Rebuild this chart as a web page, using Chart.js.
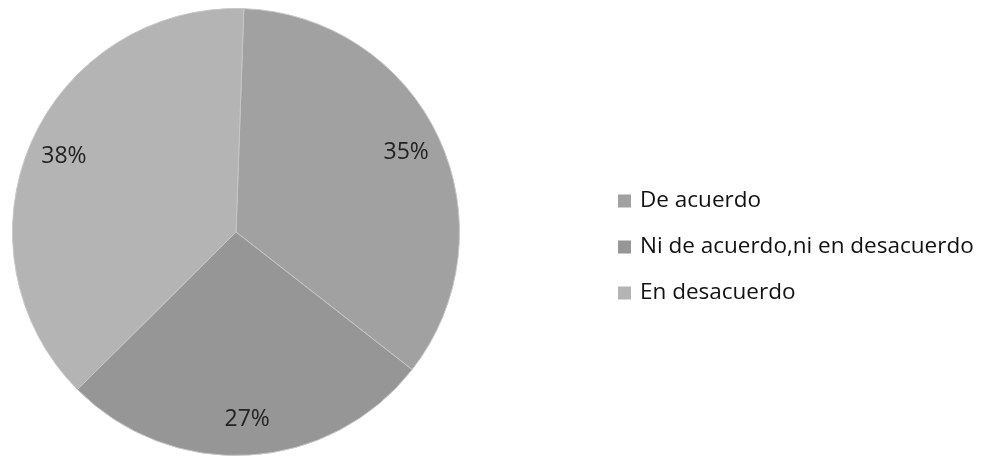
<!DOCTYPE html>
<html>
<head>
<meta charset="utf-8">
<script src="https://cdn.jsdelivr.net/npm/chart.js@4/dist/chart.umd.min.js"></script>
<style>
  html,body{margin:0;padding:0;background:#fff;}
  #wrap{position:relative;width:1002px;height:457px;}
</style>
</head>
<body>
<div id="wrap"><canvas id="pieCanvas" width="1002" height="457"></canvas></div>
<script>
// data
const labels = ['De acuerdo', 'Ni de acuerdo,ni en desacuerdo', 'En desacuerdo'];
const values = [35, 27, 38];
const sliceColors = ['#a1a1a1', '#969696', '#b4b4b4'];

// percent labels inside the slices
const pctLabels = {
  id: 'pctLabels',
  afterDatasetsDraw(chart){
    const ctx = chart.ctx;
    const meta = chart.getDatasetMeta(0);
    ctx.save();
    ctx.font = '23px "Open Sans", sans-serif';
    ctx.fillStyle = '#222';
    ctx.textAlign = 'center';
    ctx.textBaseline = 'middle';
    meta.data.forEach((arc, i) => {
      const p = arc.getProps(['x','y','startAngle','endAngle','outerRadius'], true);
      const mid = (p.startAngle + p.endAngle) / 2;
      const r = p.outerRadius * 0.84;
      ctx.fillText(values[i] + '%', p.x + Math.cos(mid) * r, p.y + Math.sin(mid) * r);
    });
    ctx.restore();
  }
};

// legend drawn at the right like the original
const sideLegend = {
  id: 'sideLegend',
  afterDraw(chart){
    const ctx = chart.ctx;
    const x0 = 618, y0 = 201, step = 46, box = 13;
    ctx.save();
    ctx.font = '22.5px "Open Sans", sans-serif';
    ctx.textBaseline = 'middle';
    labels.forEach((l, i) => {
      const y = y0 + i * step;
      ctx.fillStyle = sliceColors[i];
      ctx.fillRect(x0, y - box/2, box, box);
      ctx.fillStyle = '#111';
      ctx.fillText(l, x0 + box + 9, y);
    });
    ctx.restore();
  }
};

new Chart(document.getElementById('pieCanvas').getContext('2d'), {
  type: 'pie',
  data: {
    labels: labels,
    datasets: [{
      data: values,
      backgroundColor: sliceColors,
      borderColor: '#c6c6c6',
      borderWidth: 1
    }]
  },
  options: {
    responsive: false,
    animation: false,
    rotation: 2,
    layout: {padding: {left: 12, top: 8, right: 542, bottom: 1}},
    plugins: {legend: {display: false}, tooltip: {enabled: false}}
  },
  plugins: [pctLabels, sideLegend]
});
</script>
</body>
</html>
